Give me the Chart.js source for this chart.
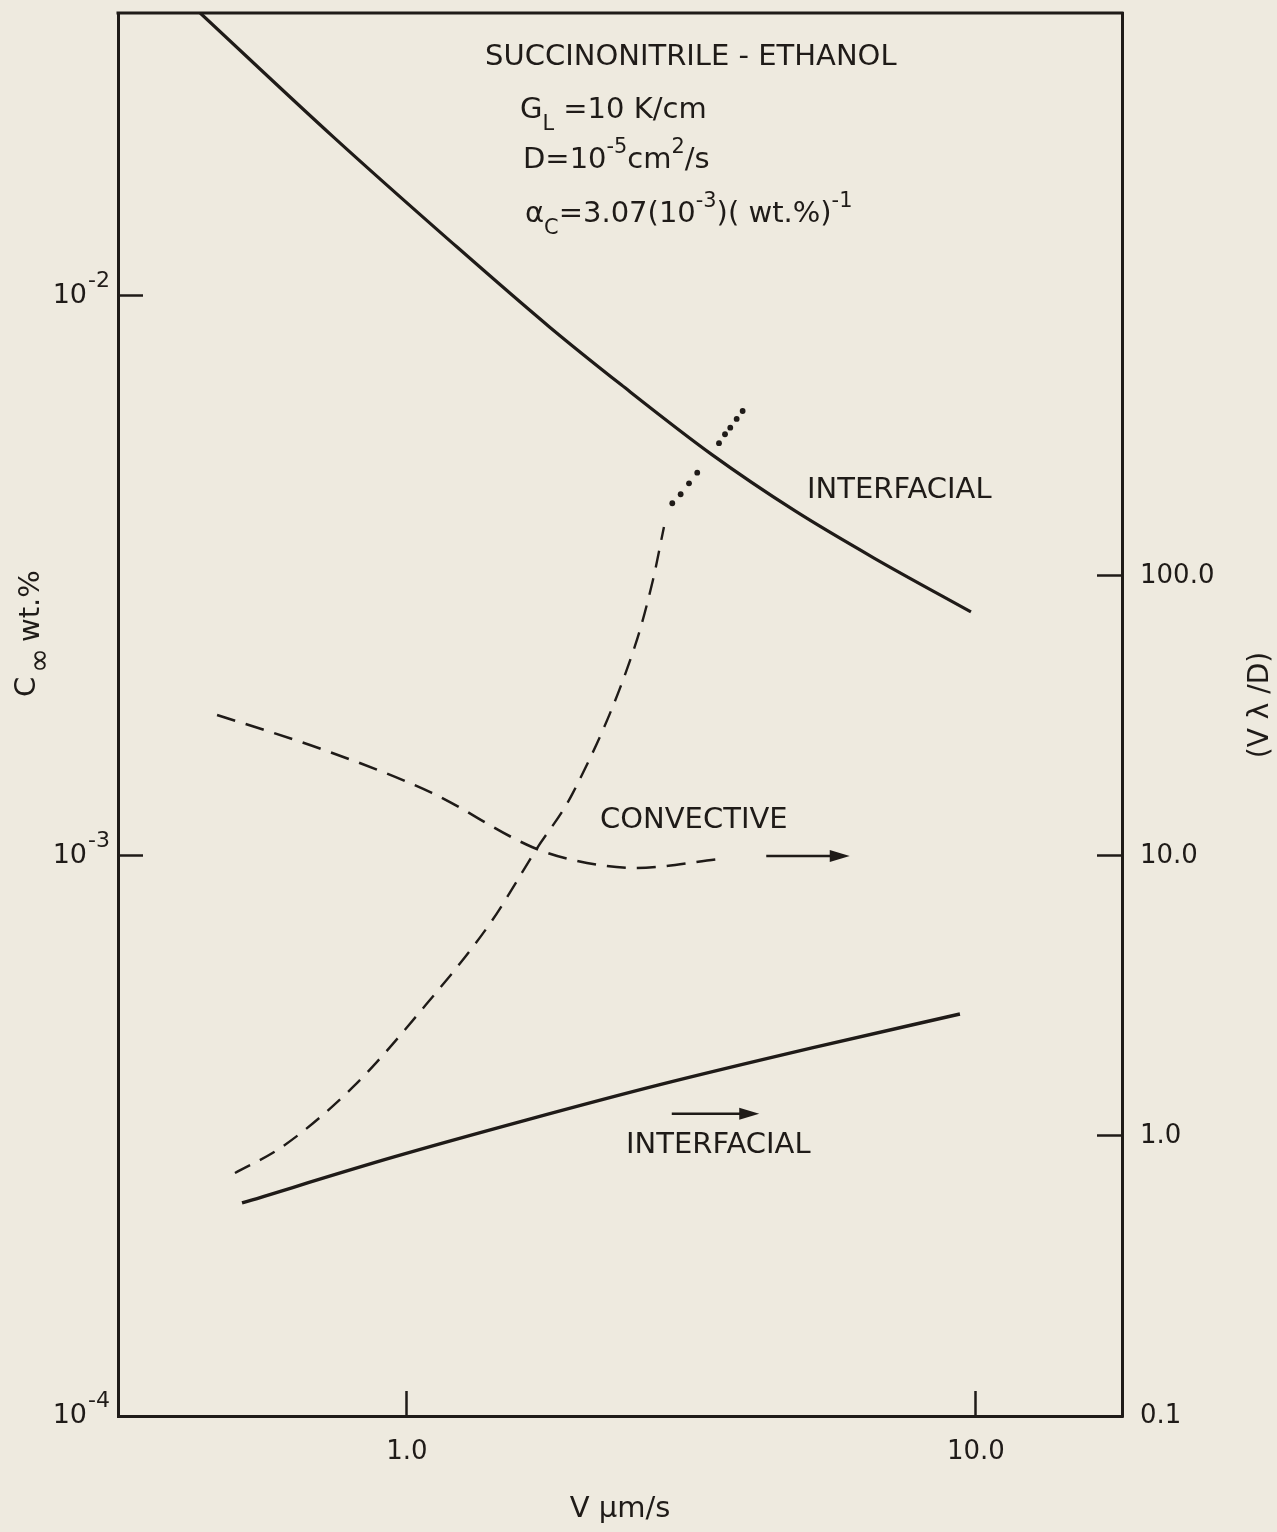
<!DOCTYPE html>
<html><head><meta charset="utf-8">
<script src="https://cdn.jsdelivr.net/npm/chart.js@4.4.1/dist/chart.umd.min.js"></script>
<style>html,body{margin:0;padding:0;background:#eeeadf;}canvas{display:block;}</style>
</head><body>
<canvas id="c" width="1277" height="1532"></canvas>
<script>
// ---------- axis ranges and tick labels ----------
const velocityMin = 0.3105, velocityMax = 18.06;
const velocityTicks = [1, 10];
const velocityTickLabels = ['1.0', '10.0'];

const concMin = 1e-4, concMax = 0.0320;
const concTicks = [1e-4, 1e-3, 1e-2];
const concTickLabels = ['10', '10', '10'];
const concTickExponents = ['-4', '-3', '-2'];

const ratioMin = 0.1, ratioMax = 10240;
const ratioTicks = [0.1, 1, 10, 100];
const ratioTickLabels = ['0.1', '1.0', '10.0', '100.0'];

// ---------- series ----------
// Interfacial instability, C∞ wt.% (left axis) - solid, upper
const interfacialUpperV = [0.433, 0.742, 1.19, 1.78, 2.38, 3.44, 4.81, 6.62, 9.80];
const interfacialUpperC = [0.0320, 0.01923, 0.01254, 0.008802, 0.006937, 0.005202, 0.004131, 0.003404, 0.002728];

// Convective onset, C∞ wt.% (left axis) - dashed, steep
const convectiveSteepV = [0.4985, 0.6031, 0.8039, 1.050, 1.405, 1.685, 1.957, 2.516, 2.706, 2.829];
const convectiveSteepC = [2.716e-4, 3.023e-4, 3.868e-4, 5.244e-4, 7.621e-4, 1.025e-3, 1.296e-3, 2.371e-3, 3.111e-3, 3.868e-3];

// Dotted continuation (left axis)
const dottedV = [2.926, 3.027, 3.131, 3.237, 3.535, 3.622, 3.700, 3.797, 3.890];
const dottedC = [4.264e-3, 4.424e-3, 4.628e-3, 4.835e-3, 5.458e-3, 5.662e-3, 5.817e-3, 6.030e-3, 6.230e-3];

// Convective wavelength, Vλ/D (right axis) - dashed, shallow
const convectiveRatioV = [0.4636, 0.7147, 1.106, 1.658, 1.957, 2.516, 3.549];
const convectiveRatio = [31.89, 23.91, 16.79, 10.77, 9.676, 9.060, 9.757];

// Interfacial wavelength, Vλ/D (right axis) - solid, lower
const interfacialRatioV = [0.5129, 0.9488, 1.625, 2.772, 5.150, 9.373];
const interfacialRatio = [0.5764, 0.8414, 1.141, 1.521, 2.062, 2.727];

// Arrows pointing to the right axis (data coordinates)
const arrowConvectiveV = [4.28, 6.00], arrowConvectiveR = 10.0;
const arrowInterfacialV = [2.92, 4.16], arrowInterfacialR = 1.2;

// ---------- drawing ----------
const ink = '#1f1b18';
const FONT = '"DejaVu Sans"';
const pts = (xs, ys) => xs.map((x, i) => ({x: x, y: ys[i]}));

function richText(ctx, x, y, parts, base) {
  let cx = x;
  for (const [t, m] of parts) {
    const size = m ? base * 0.72 : base;
    ctx.font = size + 'px ' + FONT;
    const dy = m === 1 ? base * 0.40 : (m === 2 ? -base * 0.52 : 0);
    ctx.fillText(t, cx, y + dy);
    cx += ctx.measureText(t).width;
  }
}

function arrow(ctx, x1, y, x2) {
  ctx.save();
  ctx.strokeStyle = ink; ctx.fillStyle = ink; ctx.lineWidth = 2.6;
  ctx.beginPath(); ctx.moveTo(x1, y); ctx.lineTo(x2 - 14, y); ctx.stroke();
  ctx.beginPath(); ctx.moveTo(x2, y); ctx.lineTo(x2 - 20, y - 6); ctx.lineTo(x2 - 20, y + 6); ctx.closePath(); ctx.fill();
  ctx.restore();
}

const decor = {
  id: 'decor',
  beforeDraw(chart) {
    const ctx = chart.ctx;
    ctx.save();
    ctx.fillStyle = '#eeeadf';
    ctx.fillRect(0, 0, chart.width, chart.height);
    ctx.restore();
  },
  afterDraw(chart) {
    const ctx = chart.ctx, a = chart.chartArea;
    const xs = chart.scales.x, yr = chart.scales.yR, yl = chart.scales.yL;
    ctx.save();
    // top frame edge
    ctx.strokeStyle = ink; ctx.lineWidth = 3;
    ctx.beginPath(); ctx.moveTo(a.left - 1.5, a.top); ctx.lineTo(a.right + 1.5, a.top); ctx.stroke();

    ctx.fillStyle = ink;
    ctx.textBaseline = 'alphabetic';
    ctx.textAlign = 'left';

    // exponents of the left-axis tick labels
    ctx.font = '22px ' + FONT;
    concTicks.forEach((v, i) => {
      ctx.fillText(concTickExponents[i], 88, yl.getPixelForValue(v) - 9);
    });

    // info block
    richText(ctx, 485, 65, [['SUCCINONITRILE - ETHANOL', 0]], 29);
    richText(ctx, 520, 118, [['G', 0], ['L', 1], [' =10 K/cm', 0]], 29);
    richText(ctx, 523, 168, [['D=10', 0], ['-5', 2], ['cm', 0], ['2', 2], ['/s', 0]], 29);
    richText(ctx, 525, 222, [['\u03B1', 0], ['C', 1], ['=3.07(10', 0], ['-3', 2], [')( wt.%)', 0], ['-1', 2]], 29);

    // curve labels
    ctx.font = '29px ' + FONT;
    ctx.fillText('INTERFACIAL', 807, 498);
    ctx.fillText('CONVECTIVE', 600, 828);
    ctx.fillText('INTERFACIAL', 626, 1153);

    // arrows
    arrow(ctx, xs.getPixelForValue(arrowConvectiveV[0]), yr.getPixelForValue(arrowConvectiveR), xs.getPixelForValue(arrowConvectiveV[1]));
    arrow(ctx, xs.getPixelForValue(arrowInterfacialV[0]), yr.getPixelForValue(arrowInterfacialR), xs.getPixelForValue(arrowInterfacialV[1]));

    // left axis title  C∞ wt.%
    ctx.save();
    ctx.translate(35, 697);
    ctx.rotate(-Math.PI / 2);
    ctx.font = '29px ' + FONT;
    ctx.fillText('C', 0, 0);
    ctx.font = '30px ' + FONT;
    ctx.fillText('\u221E', 24, 14);
    ctx.font = '29px ' + FONT;
    ctx.fillText('wt.%', 55, 4);
    ctx.restore();

    // right axis title (Vλ/D)
    ctx.save();
    ctx.translate(1268, 705);
    ctx.rotate(-Math.PI / 2);
    ctx.textAlign = 'center';
    ctx.font = '28px ' + FONT;
    ctx.fillText('(V \u03BB /D)', 0, 0);
    ctx.restore();

    ctx.restore();
  }
};

const tickGrid = {display: true, drawOnChartArea: false, drawTicks: true, tickLength: -25, tickWidth: 2.5, color: ink};
const axisBorder = {display: true, color: ink, width: 3};
const noPad = s => { s.paddingTop = 0; s.paddingBottom = 0; s.paddingLeft = 0; s.paddingRight = 0; };

new Chart(document.getElementById('c'), {
  type: 'line',
  data: {
    datasets: [
      {label: 'Interfacial (C\u221E)', data: pts(interfacialUpperV, interfacialUpperC), yAxisID: 'yL',
       borderColor: ink, borderWidth: 3.2, pointRadius: 0, cubicInterpolationMode: 'monotone'},
      {label: 'Convective (C\u221E)', data: pts(convectiveSteepV, convectiveSteepC), yAxisID: 'yL',
       borderColor: ink, borderWidth: 2.4, borderDash: [17, 11], pointRadius: 0, cubicInterpolationMode: 'monotone'},
      {label: 'Convective (dotted)', data: pts(dottedV, dottedC), yAxisID: 'yL', showLine: false,
       pointRadius: 2.9, pointBorderWidth: 0, pointBackgroundColor: ink, borderColor: ink},
      {label: 'Convective (V\u03BB/D)', data: pts(convectiveRatioV, convectiveRatio), yAxisID: 'yR',
       borderColor: ink, borderWidth: 2.6, borderDash: [19, 11], pointRadius: 0, cubicInterpolationMode: 'monotone'},
      {label: 'Interfacial (V\u03BB/D)', data: pts(interfacialRatioV, interfacialRatio), yAxisID: 'yR',
       borderColor: ink, borderWidth: 3.4, pointRadius: 0, cubicInterpolationMode: 'monotone'}
    ]
  },
  options: {
    responsive: false,
    animation: false,
    events: [],
    layout: {padding: {top: 13, left: 0, right: 0, bottom: 0}},
    plugins: {legend: {display: false}, tooltip: {enabled: false}},
    scales: {
      x: {
        type: 'logarithmic', position: 'bottom', min: velocityMin, max: velocityMax, bounds: 'data',
        afterBuildTicks: s => { s.ticks = velocityTicks.map(v => ({value: v})); },
        afterFit: s => { s.height = 116; noPad(s); },
        ticks: {autoSkip: false, maxRotation: 0, padding: 46, color: ink, font: {family: 'DejaVu Sans', size: 26},
                callback: (v) => velocityTickLabels[velocityTicks.indexOf(v)]},
        grid: tickGrid, border: axisBorder,
        title: {display: true, text: 'V \u03BCm/s', color: ink, font: {family: 'DejaVu Sans', size: 29}, padding: {top: 0, bottom: 5}}
      },
      yL: {
        type: 'logarithmic', position: 'left', min: concMin, max: concMax, bounds: 'data',
        afterBuildTicks: s => { s.ticks = concTicks.map(v => ({value: v})); },
        afterFit: s => { s.width = 118; noPad(s); },
        ticks: {autoSkip: false, padding: 56, color: ink, font: {family: 'DejaVu Sans', size: 27},
                callback: (v) => concTickLabels[concTicks.indexOf(v)]},
        grid: tickGrid, border: axisBorder
      },
      yR: {
        type: 'logarithmic', position: 'right', min: ratioMin, max: ratioMax, bounds: 'data',
        afterBuildTicks: s => { s.ticks = ratioTicks.map(v => ({value: v})); },
        afterFit: s => { s.width = 155; noPad(s); },
        ticks: {autoSkip: false, padding: 43, color: ink, font: {family: 'DejaVu Sans', size: 26},
                callback: (v) => ratioTickLabels[ratioTicks.indexOf(v)]},
        grid: tickGrid, border: axisBorder
      }
    }
  },
  plugins: [decor]
});
</script>
</body></html>
